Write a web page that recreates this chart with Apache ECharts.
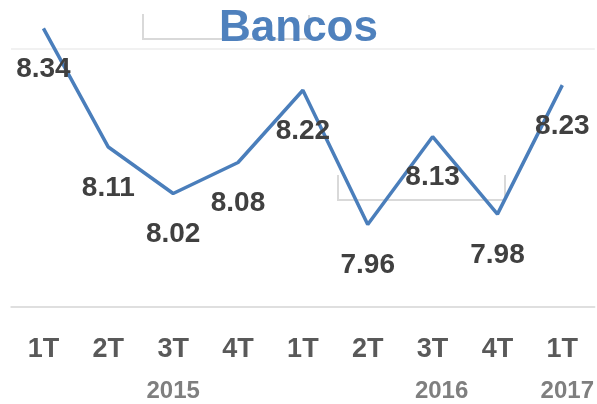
<!DOCTYPE html>
<html><head><meta charset="utf-8">
<script src="https://cdn.jsdelivr.net/npm/echarts@6/dist/echarts.min.js"></script>
<style>html,body{margin:0;padding:0;background:#fff}#c{width:597px;height:404px}</style>
</head><body><div id="c"></div>
<script>
const titleText = 'Bancos';
const quarters = ['1T','2T','3T','4T','1T','2T','3T','4T','1T'];
const years = ['','','2015','','','','2016','','2017'];
const values = [8.34, 8.11, 8.02, 8.08, 8.22, 7.96, 8.13, 7.98, 8.23];

const yearShift = {'2016': 18, '2017': 10};
const yearData = years.map(y => yearShift[y] ? {value: y, textStyle: {padding: [0, 0, 0, yearShift[y]]}} : y);

const chart = echarts.init(document.getElementById('c'), null, {renderer:'canvas'});
const FONT = 'Liberation Sans, Arial, sans-serif';
chart.setOption({
  animation: false,
  backgroundColor: '#ffffff',
  title: {
    text: titleText, left: 'center', top: 2,
    textStyle: {fontFamily: FONT, fontSize: 44, fontWeight: 'bold', color: '#4f81bd'}
  },
  graphic: [
    {type:'polyline', z:-1, shape:{points:[[143,14],[143,39],[309,39],[309,15]]}, style:{stroke:'#d9d9d9', lineWidth:2, fill:null}},
    {type:'polyline', z:-1, shape:{points:[[338,175],[338,200],[505,200],[505,175]]}, style:{stroke:'#d9d9d9', lineWidth:2, fill:null}}
  ],
  grid: {left: 11, right: 2, top: 49, bottom: 97, containLabel: false},
  xAxis: [
    {type:'category', data: quarters, position:'bottom',
     axisLine:{show:true, lineStyle:{color:'#d9d9d9', width:1.5}},
     axisTick:{show:false},
     axisLabel:{margin:29, fontFamily:FONT, fontSize:27, fontWeight:'bold', color:'#595959'}},
    {type:'category', data: yearData, position:'bottom',
     axisLine:{show:false}, axisTick:{show:false},
     axisLabel:{margin:72, interval:0, fontFamily:FONT, fontSize:24, fontWeight:'bold', color:'#7f7f7f'}}
  ],
  yAxis: {type:'value', min:7.8, max:8.3, interval:0.5, show:true,
    axisLine:{show:false}, axisTick:{show:false}, axisLabel:{show:false},
    splitLine:{show:true, lineStyle:{color:'#ececec', width:1.5}}},
  series: [{
    type:'line', data: values, xAxisIndex:0, clip:false,
    symbol:'circle', symbolSize:1, itemStyle:{color:'rgba(0,0,0,0)'},
    lineStyle:{color:'#4a7ebb', width:3.5},
    label:{show:true, position:'inside', offset:[0,41], fontFamily:FONT, fontSize:28, fontWeight:'bold', color:'#404040',
      formatter: p => p.value.toFixed(2)}
  }]
});
</script></body></html>
